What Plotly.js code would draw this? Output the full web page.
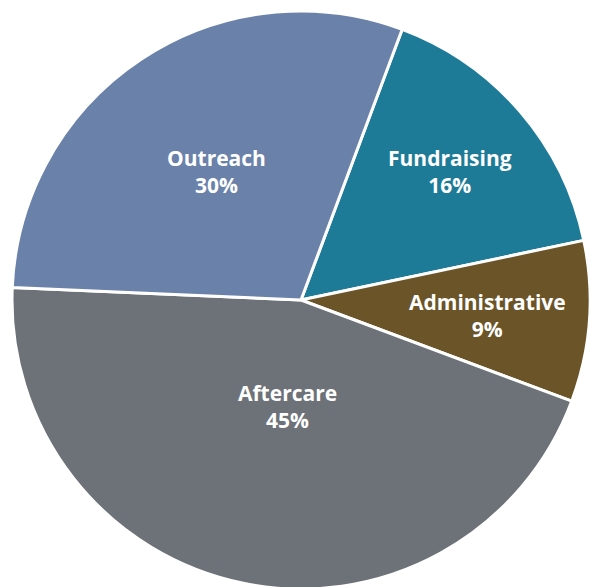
<!DOCTYPE html>
<html>
<head>
<meta charset="utf-8">
<script src="https://cdn.plot.ly/plotly-3.0.1.min.js"></script>
<style>
html,body{margin:0;padding:0;overflow:hidden;background:#fff;}
#chart{width:592px;height:600px;}
</style>
</head>
<body>
<div id="chart"></div>
<script>
// Data (clockwise order starting from the top boundary)
const categories = ["Fundraising", "Administrative", "Aftercare", "Outreach"];
const shares = [16, 9, 45, 30];
const sliceColors = ["#1e7b97", "#6b5428", "#6d7178", "#6a81a9"];

// Label centre points in pixels (style only)
const labelPx = [
  [450, 172],
  [487, 316],
  [287, 406],
  [216, 172]
];
const W = 592, H = 600;

const total = shares.reduce((a, b) => a + b, 0);
const annotations = categories.map((c, i) => ({
  x: labelPx[i][0] / W, y: 1 - labelPx[i][1] / H, xref: "paper", yref: "paper",
  xanchor: "center", yanchor: "middle",
  text: "<b>" + c + "<br>" + Math.round(shares[i] / total * 100) + "%</b>",
  showarrow: false,
  font: {family: "Open Sans, sans-serif", size: 21, color: "#ffffff"},
  align: "center"
}));

Plotly.newPlot("chart", [{
  type: "pie",
  labels: categories,
  values: shares,
  sort: false,
  direction: "clockwise",
  rotation: 20.5,
  marker: {colors: sliceColors, line: {color: "#ffffff", width: 3}},
  textinfo: "none",
  hoverinfo: "label+percent",
  domain: {x: [12/W, 590/W], y: [11/H, 589/H]}
}], {
  width: W, height: H,
  margin: {l: 0, r: 0, t: 0, b: 0},
  showlegend: false,
  paper_bgcolor: "#ffffff",
  annotations: annotations
}, {displayModeBar: false, staticPlot: true});
</script>
</body>
</html>
